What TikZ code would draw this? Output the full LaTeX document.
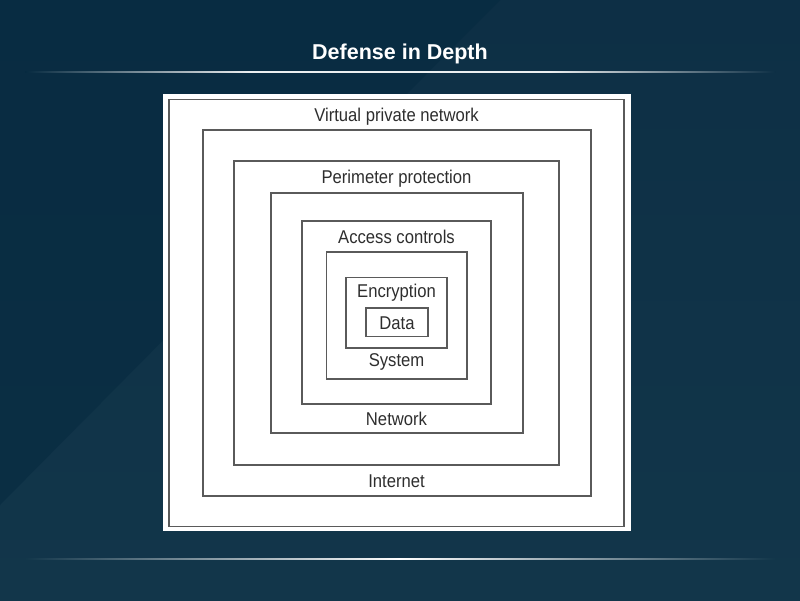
\documentclass[tikz,border=0pt]{standalone}
\usepackage{fontspec}
\setmainfont{Liberation Sans}
\newfontfamily\layerfont[FakeStretch=0.9]{Liberation Sans}

\definecolor{bgdark}{HTML}{062A40}
\definecolor{bgmid}{HTML}{0D2F45}
\definecolor{bglight}{HTML}{12364A}
\definecolor{boxline}{HTML}{5A5A5A}
\definecolor{labeltext}{HTML}{2E2E2E}

\pgfdeclarehorizontalshading{toprule}{100bp}{color(0bp)=(bgdark); color(25bp)=(bgdark); color(40bp)=(white!92!bgdark); color(60bp)=(white!92!bgdark); color(75bp)=(bgmid); color(100bp)=(bgmid)}
\pgfdeclarehorizontalshading{bottomrule}{100bp}{color(0bp)=(bglight); color(25bp)=(bglight); color(50bp)=(white); color(75bp)=(bglight); color(100bp)=(bglight)}

\tikzset{
  layerbox/.style={draw=boxline, line width=1.25pt},
  layerlabel/.style={anchor=base, text=labeltext, font=\layerfont\fontsize{18.5}{20}\selectfont, inner sep=0pt},
}

\begin{document}
\begin{tikzpicture}[x=1pt, y=-1pt]
    \useasboundingbox (0,0) rectangle (800,600);

    % background
    \shade[top color=bgmid, bottom color=bglight] (0,0) rectangle (800,600);
    \fill[bgdark, opacity=0.6] (0,0) -- (500,0) -- (0,505) -- cycle;

    % title and rules
    \node[text=white, anchor=base, font=\bfseries\fontsize{21.5}{24}\selectfont] (title) at (400,59) {Defense in Depth};
    \shade[shading=toprule] (25,71.5) rectangle (775,72.8);
    \shade[shading=bottomrule] (25,558.3) rectangle (775,559.7);

    % white panel
    \fill[white] (163,94) rectangle (631,531);

    % the nested layers
    \draw[layerbox] (169,99.5) rectangle (624,526.5);
    \draw[layerbox] (203,130) rectangle (591,496);
    \draw[layerbox] (234,161) rectangle (559,465);
    \draw[layerbox] (271,193) rectangle (523,433);
    \draw[layerbox] (302,221) rectangle (491,404);
    \draw[layerbox] (326.5,252) rectangle (467,379);
    \draw[layerbox] (346,277.5) rectangle (447,348);
    \draw[layerbox] (366,308) rectangle (428,336.5);

    % labels
    \node[layerlabel] (vpn) at (396.5,121.5) {Virtual private network};
    \node[layerlabel] (perimeter) at (396.5,183.5) {Perimeter protection};
    \node[layerlabel] (access) at (396.5,243.3) {Access controls};
    \node[layerlabel] (encryption) at (396.5,297.3) {Encryption};
    \node[layerlabel] (data) at (397,329) {Data};
    \node[layerlabel] (system) at (396.5,366.7) {System};
    \node[layerlabel] (network) at (396.5,425.5) {Network};
    \node[layerlabel] (internet) at (396.5,487.5) {Internet};
\end{tikzpicture}
\end{document}
